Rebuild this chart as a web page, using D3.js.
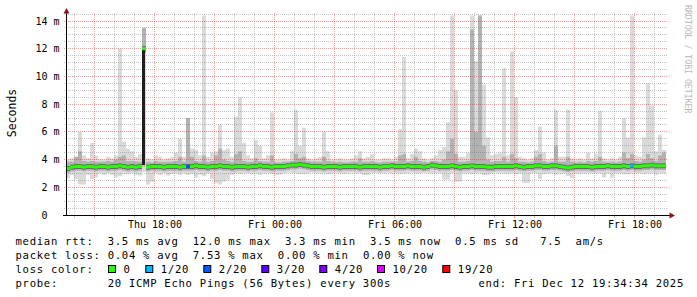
<!DOCTYPE html>
<html>
<head>
<meta charset="utf-8">
<script src="https://cdn.jsdelivr.net/npm/d3@7"></script>
<style>
  body { margin: 0; background: #fff; }
  text { font-family: "DejaVu Sans Mono", monospace; fill: #000; }
</style>
</head>
<body>
<div id="chart"></div>
<script>
// window: 30 hours ending Fri Dec 12 19:34:34 2025, one sample every 12 min
var start = new Date(2025, 11, 11, 13, 34, 34),
    end = new Date(2025, 11, 12, 19, 34, 34),
    stepMin = 12;

// median rtt (ms)
var median = [
  3.35,3.45,3.5,3.5,3.45,3.5,3.5,3.45,3.5,3.5,
  3.45,3.5,3.5,3.55,3.5,3.45,3.5,3.45,3.5,12.0,
  3.45,3.5,3.5,3.5,3.45,3.5,3.5,3.5,3.45,3.5,
  3.5,3.5,3.55,3.5,3.5,3.45,3.5,3.5,3.55,3.5,
  3.5,3.45,3.5,3.5,3.5,3.45,3.5,3.5,3.55,3.5,
  3.5,3.45,3.5,3.5,3.5,3.55,3.6,3.6,3.65,3.6,
  3.55,3.5,3.5,3.5,3.45,3.5,3.5,3.5,3.45,3.5,
  3.5,3.5,3.5,3.45,3.5,3.5,3.5,3.5,3.45,3.5,
  3.5,3.55,3.5,3.5,3.5,3.55,3.5,3.5,3.5,3.45,
  3.5,3.6,3.55,3.5,3.5,3.5,3.55,3.5,3.45,3.5,
  3.5,3.55,3.5,3.5,3.5,3.45,3.45,3.5,3.5,3.5,
  3.5,3.5,3.55,3.5,3.45,3.5,3.5,3.55,3.55,3.5,
  3.5,3.55,3.55,3.5,3.45,3.4,3.45,3.5,3.5,3.5,
  3.5,3.45,3.5,3.5,3.5,3.55,3.5,3.5,3.5,3.55,
  3.5,3.55,3.5,3.5,3.55,3.55,3.6,3.55,3.55,3.55
];

// highest ping of each sample (light smoke top)
var smokeHi = [
  4.0,4.1,4.2,6.0,4.3,4.1,5.2,4.3,4.0,4.0,
  4.2,4.1,4.3,12.0,5.3,4.8,4.6,4.2,4.4,13.5,
  4.1,4.0,4.3,4.2,4.0,4.1,4.2,4.5,5.5,4.2,
  7.0,4.8,4.7,4.3,14.4,4.2,4.5,4.6,6.5,4.7,
  4.8,4.2,7.1,8.5,5.2,4.3,4.1,5.4,5.0,4.1,
  4.3,7.4,4.0,4.0,4.1,4.0,4.6,7.6,5.0,6.3,
  4.1,4.0,4.1,4.2,6.0,4.6,4.0,4.0,4.1,4.0,
  4.0,4.1,4.3,4.6,4.1,4.2,4.4,4.0,4.0,4.1,
  4.1,4.0,4.2,6.2,11.4,4.1,4.4,4.8,4.6,4.1,
  4.0,4.1,4.3,4.7,4.9,6.7,14.4,9.0,4.2,4.2,
  4.5,14.4,11.1,14.4,9.4,5.6,4.3,4.4,4.5,10.6,
  4.3,11.8,8.5,4.2,4.1,4.0,4.1,4.7,6.4,4.5,
  4.0,4.1,7.6,4.2,4.2,7.6,4.1,4.0,4.1,4.0,
  4.5,4.1,4.4,7.5,4.1,4.0,4.1,4.0,4.2,7.0,
  5.6,14.4,4.3,4.2,5.6,9.5,7.9,4.6,5.8,4.7
];

// upper edge of the denser smoke
var smokeMid = [
  3.85,3.85,4.2,4.6,3.9,3.85,3.9,3.85,3.85,3.85,
  3.9,3.85,4.0,4.2,4.3,3.9,3.9,3.85,3.85,13.5,
  3.85,3.8,3.9,3.85,3.85,3.85,3.85,3.9,4.2,3.85,
  7.0,4.2,3.9,3.85,4.3,3.85,3.9,4.3,4.8,4.0,
  3.9,3.85,4.4,4.6,3.9,3.85,3.85,4.1,3.9,3.85,
  3.85,4.3,3.8,3.8,3.85,3.85,3.9,4.4,4.1,4.2,
  3.9,3.85,3.85,3.85,4.2,3.9,3.85,3.8,3.85,3.8,
  3.8,3.85,3.85,4.1,3.85,3.85,3.9,3.8,3.8,3.85,
  3.85,3.85,3.85,4.3,4.4,3.85,3.9,4.2,3.9,3.85,
  3.8,3.9,3.9,3.85,4.0,4.6,5.5,4.4,3.85,3.85,
  3.9,13.4,6.0,14.4,5.0,4.0,3.85,3.9,3.9,4.2,
  3.85,4.4,4.1,3.85,3.85,3.8,3.85,4.2,4.4,3.9,
  3.8,3.85,5.0,3.85,3.85,4.2,3.85,3.8,3.85,3.8,
  3.9,3.85,3.9,4.2,3.85,3.8,3.85,3.8,3.85,4.5,
  4.1,4.4,3.9,3.85,4.0,4.4,4.1,3.9,4.3,4.5
];

// lowest ping of each sample
var smokeLo = [
  2.65,2.9,2.6,2.2,2.2,2.9,2.6,2.7,3.0,2.9,
  3.0,2.9,2.7,2.8,3.0,2.95,3.0,2.9,2.85,3.1,
  2.2,2.4,3.0,2.9,3.0,2.85,2.95,3.0,2.9,3.0,
  2.9,2.95,2.7,2.9,2.8,3.0,2.6,2.3,2.2,2.4,
  2.5,2.9,3.0,2.95,3.0,3.0,2.95,3.0,2.9,3.0,
  3.0,2.95,2.9,2.9,3.0,3.05,3.0,3.0,2.95,2.95,
  3.0,3.05,3.0,3.0,3.0,2.95,3.0,3.05,3.0,2.95,
  3.0,3.05,3.0,3.0,2.9,2.9,3.0,3.05,3.0,3.0,
  3.05,3.0,3.0,2.95,3.0,3.0,3.05,3.0,3.0,3.05,
  3.0,3.0,3.05,3.0,2.55,2.55,3.0,2.4,2.4,3.0,
  3.0,2.95,3.0,3.0,2.9,2.9,3.0,3.05,3.0,3.0,
  3.0,3.0,2.95,3.0,2.3,2.3,3.0,3.0,2.6,2.95,
  3.0,3.0,2.9,3.0,3.0,2.8,2.65,3.0,3.0,3.0,
  3.0,3.0,3.0,3.0,2.7,3.0,2.7,3.0,3.0,2.95,
  2.95,3.0,3.0,3.0,2.95,3.0,3.0,2.9,3.0,3.0
];

// lost pings out of 20 (all others 0)
var lossIdx = [30, 141];
var lossVal = [2, 1];

// sample where all pings sat between these (dark smoke)
var darkIdx = [19];
var darkLo = [3.6];
var darkHi = [12.0];

var lossSteps = [0, 1, 2, 3, 4, 10, 19];
var lossLabels = ["0", "1/20", "2/20", "3/20", "4/20", "10/20", "19/20"];
var lossColors = ["#26ff00", "#00b8ff", "#0059ff", "#5e00ff", "#7e00ff", "#dd00ff", "#ff0000"];

var yTicks = [0, 2, 4, 6, 8, 10, 12, 14];

// legend rows: text and the character column it starts at
var legendRtt = ["median rtt:", "3.5 ms avg", "12.0 ms max", "3.3 ms min", "3.5 ms now", "0.5 ms sd", "7.5", "am/s"];
var legendRttCol = [0, 13, 25, 38, 50, 62, 74, 79];
var legendLoss = ["packet loss:", "0.04 % avg", "7.53 % max", "0.00 % min", "0.00 % now"];
var legendLossCol = [0, 13, 25, 37, 49];
var probeText = ["probe:", "20 ICMP Echo Pings (56 Bytes) every 300s", "end: Fri Dec 12 19:34:34 2025"];

// ---------------------------------------------------------------
var W = 697, H = 297;
var svg = d3.select("#chart").append("svg")
    .attr("width", W).attr("height", H);

var x = d3.scaleTime().domain([start, end]).range([66, 666]);
var y = d3.scaleLinear().domain([0, 14.5]).range([215, 14.1]);

var lossColor = d3.scaleThreshold()
    .domain(lossSteps.slice(1))
    .range(lossColors);

var data = median.map(function(m, i) {
  var k = lossIdx.indexOf(i);
  return {
    t0: d3.timeMinute.offset(start, stepMin * i),
    t1: d3.timeMinute.offset(start, stepMin * (i + 1)),
    med: m, hi: smokeHi[i], mid: smokeMid[i], lo: smokeLo[i],
    loss: k < 0 ? 0 : lossVal[k]
  };
});

function bx(d) { return x(d.t0); }
function bw(d) { return x(d.t1) - x(d.t0); }

// light smoke
svg.append("g").selectAll("rect").data(data).enter().append("rect")
    .attr("x", bx).attr("width", bw)
    .attr("y", function(d) { return y(d.hi); })
    .attr("height", function(d) { return y(d.lo) - y(d.hi); })
    .attr("fill", "#dadada");

// denser smoke
svg.append("g").selectAll("rect").data(data).enter().append("rect")
    .attr("x", bx).attr("width", bw)
    .attr("y", function(d) { return y(d.mid); })
    .attr("height", function(d) { return y(d.med - 0.3) - y(d.mid); })
    .attr("fill", "#b2b2b2");

// core around the median
svg.append("g").selectAll("rect").data(data).enter().append("rect")
    .attr("x", bx).attr("width", bw)
    .attr("y", function(d) { return y(d.med + 0.18); })
    .attr("height", function(d) { return y(d.med - 0.18) - y(d.med + 0.18); })
    .attr("fill", "#6a6a6a");

// grid (translucent, over the smoke)
var grid = svg.append("g").attr("fill", "none").attr("stroke-dasharray", "1,1");
var minorCol = "rgba(110,110,110,0.4)", majorCol = "rgba(220,40,40,0.45)";

d3.range(0.5, 14.51, 0.5).forEach(function(v) {
  var py = Math.floor(y(v)) + 0.5;
  grid.append("line")
      .attr("x1", 64).attr("x2", 668).attr("y1", py).attr("y2", py)
      .attr("stroke", v % 2 === 0 ? majorCol : minorCol);
});

d3.timeHour.every(1).range(start, end).forEach(function(t) {
  var px = Math.floor(x(t)) + 0.5;
  var col = (t.getHours() % 3 === 0) ? majorCol : minorCol;
  grid.append("line")
      .attr("x1", px).attr("x2", px).attr("y1", 13).attr("y2", 215)
      .attr("stroke", col);
  svg.append("line")
      .attr("x1", px).attr("x2", px).attr("y1", 215).attr("y2", 218)
      .attr("stroke", col);
});

// dark smoke
svg.append("g").selectAll("rect").data(darkIdx).enter().append("rect")
    .attr("x", function(idx) { return bx(data[idx]); })
    .attr("width", function(idx) { return bw(data[idx]) - 1; })
    .attr("y", function(idx, j) { return y(darkHi[j]); })
    .attr("height", function(idx, j) { return y(darkLo[j]) - y(darkHi[j]); })
    .attr("fill", "#1e1e1e");

// median, coloured by loss
svg.append("g").selectAll("rect").data(data).enter().append("rect")
    .attr("x", bx).attr("width", bw)
    .attr("y", function(d) { return y(d.med) - 1.5; })
    .attr("height", 3)
    .attr("fill", function(d) { return lossColor(d.loss); });

// axes
svg.append("line").attr("x1", 66.5).attr("x2", 66.5).attr("y1", 12).attr("y2", 216)
    .attr("stroke", "#000");
svg.append("line").attr("x1", 63).attr("x2", 671).attr("y1", 215.5).attr("y2", 215.5)
    .attr("stroke", "#000");
svg.append("path").attr("d", "M66.5,8 L63.5,13.5 L69.5,13.5 Z").attr("fill", "#8f1414");
svg.append("path").attr("d", "M675,215.5 L669.5,212.5 L669.5,218.5 Z").attr("fill", "#8f1414");

// y labels
yTicks.forEach(function(v) {
  var py = y(v) + 3.5;
  svg.append("text").attr("x", 47.5).attr("y", py)
      .attr("text-anchor", "end").attr("font-size", 10).text(v);
  if (v > 0) {
    svg.append("text").attr("x", 53.5).attr("y", py)
        .attr("font-size", 10).text("m");
  }
});

// x labels
var fmt = d3.timeFormat("%a %H:%M");
d3.timeHour.every(6).range(start, end).forEach(function(t) {
  svg.append("text").attr("x", Math.floor(x(t)) + 1).attr("y", 228)
      .attr("text-anchor", "middle").attr("font-size", 10).text(fmt(t));
});

svg.append("text")
    .attr("transform", "translate(15.5,113) rotate(-90)")
    .attr("text-anchor", "middle").attr("font-size", 11.5)
    .text("Seconds");

svg.append("text")
    .attr("transform", "translate(684.5,5) rotate(90)")
    .attr("font-size", 8.2).style("fill", "#b8b8b8")
    .text("RRDTOOL / TOBI OETIKER");

// legend
var charW = 7.09, leftX = 15.5;
var leg = svg.append("g").attr("font-size", 10.6).attr("letter-spacing", 0.71);
function row(items, cols, by) {
  items.forEach(function(s, i) {
    leg.append("text").attr("x", leftX + cols[i] * charW).attr("y", by).text(s);
  });
}
row(legendRtt, legendRttCol, 245);
row(legendLoss, legendLossCol, 259);
row(["loss color:"], [0], 273);
var boxX = [108.5, 145.8, 203.8, 261.8, 319.8, 377.5, 442.8];
lossLabels.forEach(function(s, i) {
  leg.append("rect").attr("x", boxX[i]).attr("y", 265.5)
      .attr("width", 7).attr("height", 7)
      .attr("fill", lossColors[i]).attr("stroke", "#000");
  leg.append("text").attr("x", boxX[i] + 15).attr("y", 273).text(s);
});
row(probeText, [0, 13, 65.3], 287);
</script>
</body>
</html>
